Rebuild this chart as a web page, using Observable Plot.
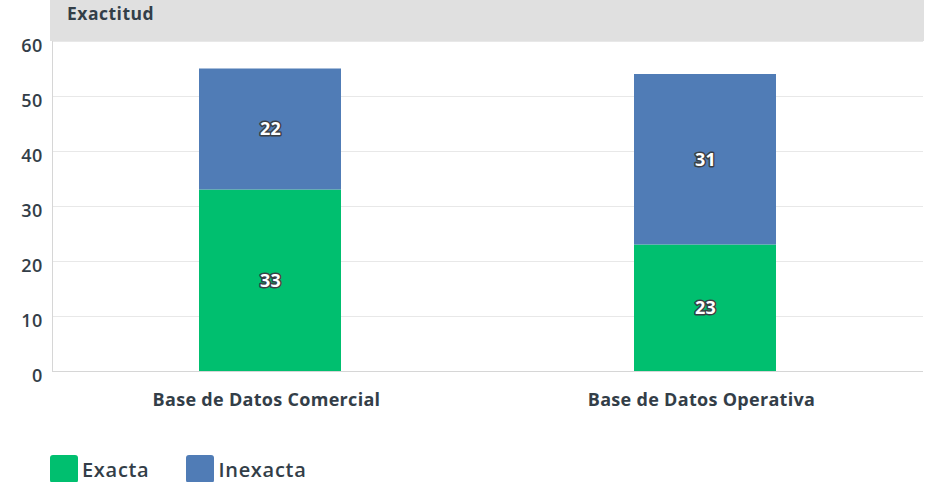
<!DOCTYPE html>
<html>
<head>
<meta charset="utf-8">
<script src="https://cdn.jsdelivr.net/npm/d3@7"></script>
<script src="https://cdn.jsdelivr.net/npm/@observablehq/plot@0.6"></script>
<style>
  body { margin: 0; background: #fff; font-family: "Open Sans", sans-serif; }
  #wrap { position: relative; width: 926px; }
  #header { position: absolute; left: 50px; top: 0; width: 874px; height: 41px; background: #e0e0e0; }
  #header span { position: absolute; left: 17px; top: 1px; font-size: 17.5px; font-weight: 700; letter-spacing: 0.5px; color: #333e48; }
  #chart { position: relative; }
  #legend { display: flex; gap: 0; margin-left: 50px; margin-top: 35px; font-size: 20px; font-weight: 600; letter-spacing: 0.7px; color: #333e48; }
  .item { display: flex; align-items: center; margin-right: 37px; }
  .sw { width: 28px; height: 28px; border-radius: 3px; margin-right: 4px; }
  svg text { letter-spacing: 0.3px; }
</style>
</head>
<body>
<div id="wrap">
  <div id="header"><span>Exactitud</span></div>
  <div id="chart"></div>
  <div id="legend"></div>
</div>
<script>
const categories = ["Base de Datos Comercial", "Base de Datos Operativa"];
const series = ["Exacta", "Inexacta"];
const exacta = [33, 23];
const inexacta = [22, 31];
const colors = ["#00bf6f", "#507cb6"];
const yTicks = [0, 10, 20, 30, 40, 50, 60];

const data = [];
categories.forEach((c, i) => {
  data.push({cat: c, serie: series[0], value: exacta[i]});
  data.push({cat: c, serie: series[1], value: inexacta[i]});
});

const chart = Plot.plot({
  width: 926,
  height: 420,
  marginLeft: 52,
  marginRight: 3,
  marginTop: 41,
  marginBottom: 49,
  style: {fontFamily: "Open Sans, sans-serif", color: "#333e48", background: "transparent"},
  x: {domain: categories, paddingInner: 0.673, paddingOuter: 0.3365, label: null},
  y: {domain: [0, 60], label: null},
  color: {domain: series, range: colors},
  marks: [
    Plot.gridY(yTicks, {stroke: "#e8e8e8", strokeOpacity: 1}),
    Plot.barY(data, Plot.stackY({x: "cat", y: "value", fill: "serie", order: series})),
    Plot.text(data, Plot.stackY({x: "cat", y: "value", z: "serie", order: series, text: d => String(d.value),
      fill: "white", stroke: "#3a3f45", strokeWidth: 3, paintOrder: "stroke",
      fontSize: 18, fontWeight: 700})),
    Plot.frame({anchor: "left", stroke: "#d6d6d6"}),
    Plot.ruleY([0], {stroke: "#d6d6d6"}),
    Plot.axisY(yTicks, {tickSize: 0, tickPadding: 10, dy: 5, fontSize: 18, fontWeight: 600, fill: "#333e48"}),
    Plot.axisX({tickSize: 0, tickPadding: 22, dx: -4, fontSize: 18, fontWeight: 700, fill: "#333e48"})
  ]
});
document.getElementById("chart").appendChild(chart);

const legend = document.getElementById("legend");
series.forEach((s, i) => {
  const it = document.createElement("div");
  it.className = "item";
  const sw = document.createElement("div");
  sw.className = "sw";
  sw.style.background = colors[i];
  const t = document.createElement("span");
  t.textContent = s;
  it.appendChild(sw); it.appendChild(t);
  legend.appendChild(it);
});
</script>
</body>
</html>
